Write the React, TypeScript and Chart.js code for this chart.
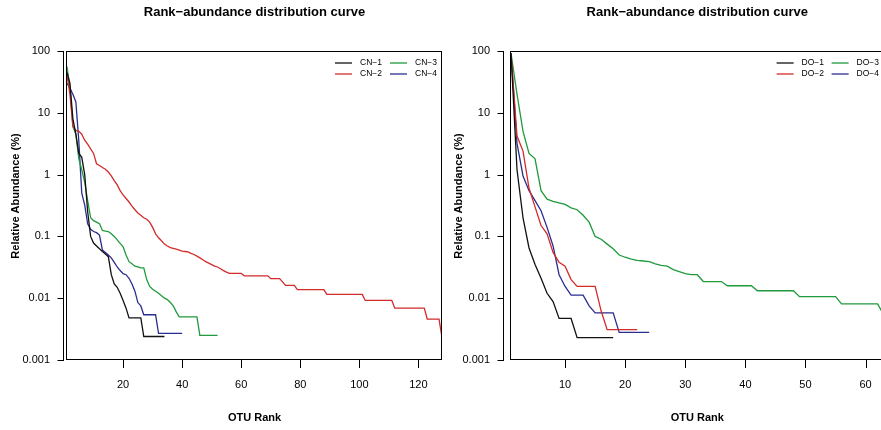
import { useEffect, useRef } from 'react';
import { Chart, registerables } from 'chart.js';

Chart.register(...registerables);

const FONT = '"Liberation Sans", Arial, Helvetica, sans-serif';

const TITLE = 'Rank−abundance distribution curve';
const X_TITLE = 'OTU Rank';
const Y_TITLE = 'Relative Abundance (%)';

const Y_TICKS = [0.001, 0.01, 0.1, 1, 10, 100];
const Y_TICK_LABELS = ['0.001', '0.01', '0.1', '1', '10', '100'];
const CN_X_TICKS = [20, 40, 60, 80, 100, 120];
const DO_X_TICKS = [10, 20, 30, 40, 50, 60];

const CN_LABELS = ['CN−1', 'CN−2', 'CN−3', 'CN−4'];
const DO_LABELS = ['DO−1', 'DO−2', 'DO−3', 'DO−4'];
const SERIES_COLORS = ['#111111', '#d42a2a', '#1f9a3c', '#2b2d8e'];

// Relative abundance (%) of each OTU, ordered by rank (index 0 = rank 1)
const CN1 = [
  45, 30, 8, 4.5, 2.2, 1.9, 1.0, 0.25, 0.1, 0.078,
  0.07, 0.063, 0.057, 0.052, 0.047, 0.024, 0.017, 0.015, 0.012, 0.0092,
  0.0069, 0.0048, 0.0048, 0.0048, 0.0048, 0.0048, 0.0024, 0.0024, 0.0024, 0.0024,
  0.0024, 0.0024, 0.0024, 0.0024,
];
const CN2 = [
  40, 20, 6, 5.2, 5.0, 4.5, 3.6, 3.1, 2.6, 2.2,
  1.5, 1.4, 1.3, 1.22, 1.1, 0.95, 0.8, 0.68, 0.55, 0.47,
  0.41, 0.36, 0.31, 0.27, 0.24, 0.22, 0.2, 0.19, 0.17, 0.14,
  0.11, 0.095, 0.085, 0.075, 0.07, 0.066, 0.064, 0.062, 0.06, 0.058,
  0.057, 0.056, 0.053, 0.051, 0.048, 0.045, 0.042, 0.039, 0.037, 0.035,
  0.033, 0.032, 0.03, 0.028, 0.0265, 0.0253, 0.0253, 0.0253, 0.0253, 0.0253,
  0.023, 0.023, 0.023, 0.023, 0.023, 0.023, 0.023, 0.023, 0.023, 0.0207,
  0.0207, 0.0207, 0.0207, 0.0184, 0.0161, 0.0161, 0.0161, 0.0161, 0.0138, 0.0138,
  0.0138, 0.0138, 0.0138, 0.0138, 0.0138, 0.0138, 0.0138, 0.0138, 0.0115, 0.0115,
  0.0115, 0.0115, 0.0115, 0.0115, 0.0115, 0.0115, 0.0115, 0.0115, 0.0115, 0.0115,
  0.0115, 0.0092, 0.0092, 0.0092, 0.0092, 0.0092, 0.0092, 0.0092, 0.0092, 0.0092,
  0.0092, 0.0069, 0.0069, 0.0069, 0.0069, 0.0069, 0.0069, 0.0069, 0.0069, 0.0069,
  0.0069, 0.0069, 0.0046, 0.0046, 0.0046, 0.0046, 0.0046, 0.0023,
];
const CN3 = [
  56, 25, 6, 4.5, 1.8, 1.2, 0.75, 0.38, 0.2, 0.18,
  0.17, 0.16, 0.125, 0.122, 0.12, 0.11, 0.1, 0.088, 0.077, 0.068,
  0.05, 0.039, 0.036, 0.033, 0.032, 0.031, 0.031, 0.02, 0.0155, 0.014,
  0.013, 0.012, 0.011, 0.01, 0.0095, 0.0085, 0.0075, 0.006, 0.005, 0.005,
  0.005, 0.005, 0.005, 0.005, 0.005, 0.0025, 0.0025, 0.0025, 0.0025, 0.0025,
  0.0025, 0.0025,
];
const CN4 = [
  30, 25, 20, 15, 3.5, 0.5, 0.32, 0.16, 0.13, 0.12,
  0.115, 0.105, 0.06, 0.055, 0.05, 0.045, 0.038, 0.032, 0.028, 0.025,
  0.024, 0.021, 0.017, 0.013, 0.0085, 0.0075, 0.0054, 0.0054, 0.0054, 0.0054,
  0.0054, 0.0027, 0.0027, 0.0027, 0.0027, 0.0027, 0.0027, 0.0027, 0.0027, 0.0027,
];

const DO1 = [
  92, 1.2, 0.2, 0.065, 0.035, 0.021, 0.012, 0.0088, 0.0047, 0.0047,
  0.0047, 0.0023, 0.0023, 0.0023, 0.0023, 0.0023, 0.0023, 0.0023,
];
const DO2 = [
  92, 4.2, 2.4, 0.6, 0.3, 0.15, 0.11, 0.055, 0.038, 0.033,
  0.02, 0.0155, 0.0155, 0.0155, 0.0155, 0.0062, 0.0031, 0.0031, 0.0031, 0.0031,
  0.0031, 0.0031,
];
const DO3 = [
  92, 20, 5.0, 2.2, 1.8, 0.55, 0.4, 0.37, 0.35, 0.33,
  0.29, 0.27, 0.22, 0.17, 0.1, 0.09, 0.075, 0.063, 0.05, 0.046,
  0.043, 0.041, 0.04, 0.039, 0.036, 0.034, 0.033, 0.029, 0.027, 0.025,
  0.024, 0.024, 0.0186, 0.0186, 0.0186, 0.0186, 0.0159, 0.0159, 0.0159, 0.0159,
  0.0159, 0.0132, 0.0132, 0.0132, 0.0132, 0.0132, 0.0132, 0.0132, 0.0106, 0.0106,
  0.0106, 0.0106, 0.0106, 0.0106, 0.0106, 0.0081, 0.0081, 0.0081, 0.0081, 0.0081,
  0.0081, 0.0081, 0.0054,
];
const DO4 = [
  92, 3.2, 0.95, 0.55, 0.38, 0.26, 0.14, 0.07, 0.024, 0.0155,
  0.0112, 0.0112, 0.0112, 0.0075, 0.0058, 0.0058, 0.0058, 0.0058, 0.0028, 0.0028,
  0.0028, 0.0028, 0.0028, 0.0028,
];

type PanelProps = {
  left: number;
  width: number;
  plotLeft: number;
  plotRight: number;
  xMax: number;
  xTicks: number[];
  labels: string[];
  series: number[][];
  tickPad: number;
  axisGap: number;
  yTitleX: number;
};

// Base-graphics style frame: box, detached y axis, outward ticks, titles and legend
function framePlugin(p: PanelProps) {
  return {
    id: 'rFrame',
    afterDatasetsDraw(chart: any) {
      const { ctx, chartArea: a } = chart;
      const xs = chart.scales.x;
      const ys = chart.scales.y;
      ctx.save();
      ctx.strokeStyle = '#000';
      ctx.lineWidth = 1;
      ctx.strokeRect(a.left - 0.5, a.top + 0.5, a.right - a.left, a.bottom - a.top - 1);

      // y axis line and tick marks
      const ax = Math.round(a.left - p.axisGap) + 0.5;
      const yTop = ys.getPixelForValue(Y_TICKS[Y_TICKS.length - 1]);
      const yBot = ys.getPixelForValue(Y_TICKS[0]);
      ctx.beginPath();
      ctx.moveTo(ax, Math.round(yTop));
      ctx.lineTo(ax, Math.round(yBot) + 1);
      for (const v of Y_TICKS) {
        const py = Math.round(ys.getPixelForValue(v)) + 0.5;
        ctx.moveTo(ax - 6, py);
        ctx.lineTo(ax, py);
      }
      // x tick marks
      for (const v of p.xTicks) {
        const px = Math.round(xs.getPixelForValue(v)) + 0.5;
        ctx.moveTo(px, a.bottom);
        ctx.lineTo(px, a.bottom + 8);
      }
      ctx.stroke();

      const cx = (a.left + a.right) / 2;
      ctx.fillStyle = '#000';
      ctx.textAlign = 'center';
      ctx.textBaseline = 'middle';
      ctx.font = `bold 13px ${FONT}`;
      ctx.fillText(TITLE, cx, 12);
      ctx.font = `bold 11px ${FONT}`;
      ctx.fillText(X_TITLE, cx, 418);
      ctx.save();
      ctx.translate(p.yTitleX, 196);
      ctx.rotate(-Math.PI / 2);
      ctx.fillText(Y_TITLE, 0, 0);
      ctx.restore();

      // two-column legend, filled column by column
      ctx.font = `8.5px ${FONT}`;
      ctx.textAlign = 'left';
      const colLine = [a.right - 107, a.right - 52];
      const colText = [a.right - 82, a.right - 27];
      chart.data.datasets.forEach((ds: any, i: number) => {
        const col = Math.floor(i / 2);
        const row = i % 2;
        const y = a.top + 12 + row * 11;
        ctx.strokeStyle = ds.borderColor;
        ctx.lineWidth = 1.3;
        ctx.beginPath();
        ctx.moveTo(colLine[col], y);
        ctx.lineTo(colLine[col] + 17, y);
        ctx.stroke();
        ctx.fillStyle = '#000';
        ctx.fillText(ds.label, colText[col], y);
      });
      ctx.restore();
    },
  };
}

function Panel(p: PanelProps) {
  const ref = useRef<HTMLCanvasElement>(null);
  useEffect(() => {
    const canvas = ref.current;
    if (!canvas) return;
    const chart = new Chart(canvas, {
      type: 'line',
      data: {
        datasets: p.series.map((vals, i) => ({
          label: p.labels[i],
          data: vals.map((v, j) => ({ x: j + 1, y: v })),
          borderColor: SERIES_COLORS[i],
          backgroundColor: SERIES_COLORS[i],
          borderWidth: 1.3,
          pointRadius: 0,
          fill: false,
          tension: 0,
        })),
      },
      options: {
        responsive: false,
        animation: false,
        devicePixelRatio: 1,
        layout: { padding: { top: 51, right: p.width - p.plotRight, left: 0, bottom: 0 } },
        plugins: {
          legend: { display: false },
          tooltip: { enabled: false },
          title: { display: false },
        },
        scales: {
          x: {
            type: 'linear',
            min: 1,
            max: p.xMax,
            grid: { display: false, drawTicks: false },
            border: { display: false },
            ticks: {
              autoSkip: false,
              maxRotation: 0,
              padding: 18,
              color: '#000',
              font: { family: FONT, size: 11 },
            },
            afterBuildTicks: (s: any) => {
              s.ticks = p.xTicks.map((v) => ({ value: v }));
            },
            afterFit: (s: any) => {
              s.height = 70;
            },
          },
          y: {
            type: 'logarithmic',
            min: Y_TICKS[0],
            max: Y_TICKS[Y_TICKS.length - 1],
            grid: { display: false, drawTicks: false },
            border: { display: false },
            ticks: {
              autoSkip: false,
              padding: p.tickPad,
              color: '#000',
              font: { family: FONT, size: 11 },
              callback: (v: any) => {
                const i = Y_TICKS.findIndex((t) => Math.abs(Math.log10(t) - Math.log10(Number(v))) < 1e-6);
                return i >= 0 ? Y_TICK_LABELS[i] : '';
              },
            },
            afterBuildTicks: (s: any) => {
              s.ticks = Y_TICKS.map((v) => ({ value: v }));
            },
            afterFit: (s: any) => {
              s.width = p.plotLeft;
            },
          },
        },
      } as any,
      plugins: [framePlugin(p)],
    });
    return () => chart.destroy();
  }, []);
  return (
    <canvas
      ref={ref}
      width={p.width}
      height={430}
      style={{ position: 'absolute', left: p.left, top: 0, width: p.width, height: 430 }}
    />
  );
}

export default function App() {
  return (
    <div
      style={{
        position: 'fixed',
        left: 0,
        top: 0,
        width: 881,
        height: 430,
        overflow: 'hidden',
        background: '#fff',
      }}
    >
      <Panel
        left={0}
        width={450}
        plotLeft={67}
        plotRight={442}
        xMax={128}
        xTicks={CN_X_TICKS}
        labels={CN_LABELS}
        series={[CN1, CN2, CN3, CN4]}
        tickPad={17}
        axisGap={4}
        yTitleX={16}
      />
      <Panel
        left={450}
        width={440}
        plotLeft={61}
        plotRight={434}
        xMax={63}
        xTicks={DO_X_TICKS}
        labels={DO_LABELS}
        series={[DO1, DO2, DO3, DO4]}
        tickPad={21}
        axisGap={8}
        yTitleX={9}
      />
    </div>
  );
}
